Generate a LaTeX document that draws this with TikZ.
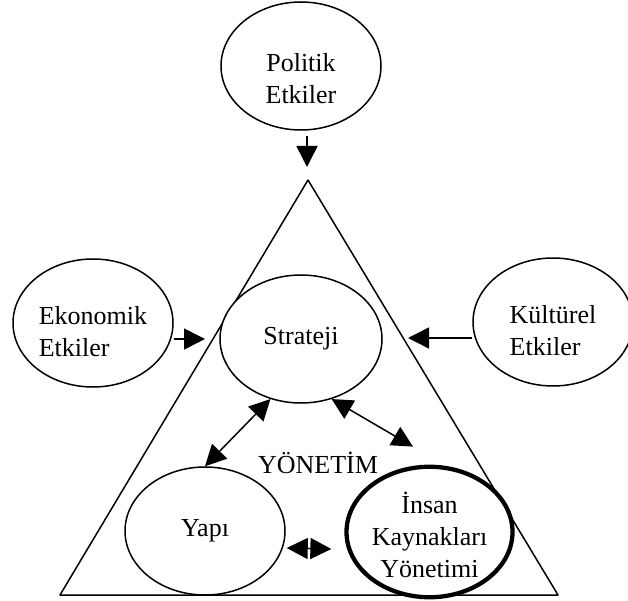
\documentclass[tikz,border=0pt]{standalone}
\usepackage{fontspec}
\setmainfont{Liberation Serif}
\usetikzlibrary{arrows.meta,shapes.geometric}

\begin{document}
\begin{tikzpicture}[
    x=1pt,
    y=-1pt,
    line join=round,
    bubble/.style={
        draw,
        ellipse,
        fill=white,
        line width=1.5pt,
        inner sep=0pt,
        minimum width=160pt,
        minimum height=128pt,
        font=\fontsize{26}{32}\selectfont,
        align=center
    },
    keybubble/.style={bubble, line width=4.3pt, minimum width=166pt, minimum height=126pt},
    drop/.style={execute at begin node={\rule{0pt}{#1}}},
    word/.style={font=\fontsize{26}{32}\selectfont},
    arrow/.style={-{Triangle[length=21pt,width=21pt]}, line width=1.5pt},
    dblarrow/.style={
        {Triangle[length=21pt,width=21pt]}-{Triangle[length=21pt,width=21pt]},
        line width=1.5pt
    }
]

\useasboundingbox (0,0) rectangle (628,601);

% -------------------------------------------------
% Triangle
% -------------------------------------------------
\draw[line width=1.5pt] (308,180) -- (558,595) -- (60,595) -- cycle;

% -------------------------------------------------
% Influences (outside)
% -------------------------------------------------
\node[bubble, drop=76pt] (politik) at (301,66) {Politik\\Etkiler};
\node[bubble, drop=68pt, align=left] (ekonomik) at (93,323) {Ekonomik\\Etkiler};
\node[bubble, drop=68pt, align=left] (kulturel) at (553,322) {Kültürel\\Etkiler};

% -------------------------------------------------
% Management (inside)
% -------------------------------------------------
\node[bubble, minimum width=162pt] (strateji) at (301,339) {Strateji};
\node[bubble] (yapi) at (205,531) {Yapı};
\node[keybubble, drop=92pt] (insan) at (429.5,532) {İnsan\\Kaynakları\\Yönetimi};
\node[word] (yonetim) at (318,463) {YÖNETİM};

% -------------------------------------------------
% Arrows
% -------------------------------------------------
\coordinate (ptip) at (307,167);
\coordinate (etip) at (205,339);
\coordinate (ktip) at (408,338);

\draw[arrow] ([shift={(6,5)}]politik.south) -- (ptip);
\draw[arrow] (etip -| ekonomik.east) -- (etip);
\draw[arrow] (ktip -| kulturel.west) -- (ktip);

\draw[dblarrow] (strateji.-117) -- (yapi.north);
\draw[dblarrow] (strateji.-63) -- ([shift={(-16.5,-18)}]insan.north);
\draw[dblarrow] ([shift={(1,17)}]yapi.east) -- ([shift={(-13,17)}]insan.west);

\end{tikzpicture}
\end{document}
